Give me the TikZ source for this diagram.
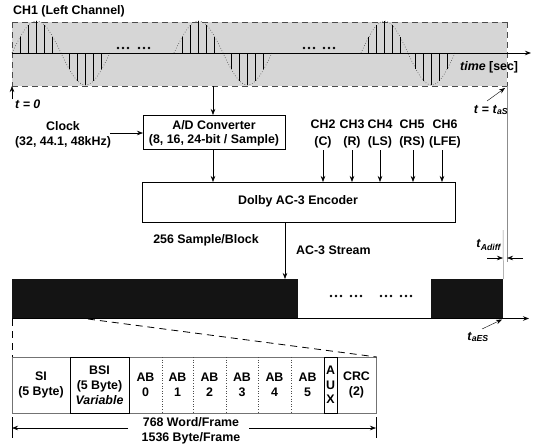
\documentclass[tikz,border=0pt]{standalone}
\usepackage{fontspec}
\setmainfont{Liberation Sans}
\usetikzlibrary{arrows.meta}
\begin{document}
\begin{tikzpicture}[x=1pt,y=-1pt,
  font=\bfseries\fontsize{12.4}{15}\selectfont,
  arr/.style={-{Stealth[length=6pt,width=4.5pt]}, line width=0.6pt},
  box/.style={draw, line width=0.7pt, inner sep=0pt, anchor=north west},
  lbl/.style={inner sep=0pt, align=center},
  dotb/.style={fill, circle, inner sep=0pt, minimum size=2.6pt},
  bandedge/.style={line width=0.9pt, dash pattern=on 6pt off 4pt, black!70},
  blk/.style={fill=black!92, inner sep=0pt, anchor=north west, minimum height=39pt},
  thinline/.style={black!45, line width=0.5pt}]
\useasboundingbox (0,0) rectangle (539,445);

% ---------- top band (CH1 samples)
\fill[black!16] (12,22) rectangle (507,86);
\coordinate (bandTL) at (12,22);
\coordinate (bandTR) at (507,22);
\coordinate (bandBL) at (12,86);
\coordinate (bandBR) at (507,86);
\draw[bandedge] (bandTL) -- (bandTR) (bandBL) -- (bandBR) (bandTL) -- (bandBL) (bandTR) -- (bandBR);
\coordinate (bandext) at (507,262);
\draw[thinline] (bandBR) -- (bandext);

\node[lbl, anchor=west] (ch1) at (13,11) {CH1 (Left Channel)};

\foreach \wo/\wp in {12/98, 174/98, 361/94}{
  \draw[dotted, line width=0.6pt, black!75] plot[domain=0:\wp, samples=60, smooth] ({\wo+\x},{53-32*sin(\x/\wp*360)});
  \foreach \k in {1,2,3,4,5,7,8,9,10,11}
    \draw[line width=0.8pt] ({\wo+\k*\wp/12},53) -- ({\wo+\k*\wp/12},{53-32*sin(30*\k)});
}
\coordinate (ax0) at (12,53);
\coordinate (ax1) at (531,53);
\draw[arr, line width=1pt] (ax0) -- (ax1);
\node[lbl, anchor=west] (time) at (460,67) {\textit{time} [sec]};

\foreach \xx in {118,123,128, 139,144,149, 304,309,314, 324,329,334}
  \node[dotb] at (\xx,48) {};

% t = 0
\node[lbl, anchor=west] (t0) at (15,104) {\textit{t = 0}};
\coordinate (t0a) at (12,99);
\draw[arr] (t0a) -- (bandBL);
% t = t_aS
\node[lbl] (tas) at (491,110) {\textit{t} = \textit{t}\textsubscript{\textit{aS}}};
\coordinate (tasa) at (487,101);
\draw[arr, line width=0.4pt] (tasa) -- (505,88);

% ---------- A/D converter and clock
\node[box, minimum width=142pt, minimum height=34pt] (ad) at (143,115) {};
\node[lbl] at (214,125) {A/D Converter};
\node[lbl] at (214,140) {(8, 16, 24-bit / Sample)};
\coordinate (bandout) at (213,86);
\draw[arr] (bandout) -- (ad.north -| bandout);

\node[lbl] (clock) at (63,135) {Clock\\(32, 44.1, 48kHz)};
\coordinate (clka) at (110,133);
\draw[arr] (clka) -- (ad.west |- clka);

% ---------- encoder
\node[box, minimum width=313pt, minimum height=40pt] (enc) at (142,182) {};
\node[lbl] at (298,201) {Dolby AC-3 Encoder};
\draw[arr] (ad.south -| bandout) -- (enc.north -| bandout);

\foreach \cx/\ax/\cn/\cl in {323/323/2/C, 352/352/3/R, 380/380/4/LS, 412/413/5/RS, 445/442/6/LFE}{
  \node[lbl] (ch\cn) at (\cx,133.5) {CH\cn\\[2pt](\cl)};
  \coordinate (cha\cn) at (\ax,150);
  \draw[arr] (cha\cn) -- (enc.north -| cha\cn);
}

\node[lbl] (spb) at (206,240) {256 Sample/Block};
\node[lbl, anchor=west] (ac3) at (296,250) {AC-3 Stream};

% ---------- stream
\node[blk, minimum width=286pt] (blk1) at (12,279) {};
\node[blk, minimum width=72pt] (blk2) at (431,279) {};
\coordinate (encout) at (285,222);
\draw[arr] (encout) -- (blk1.north -| encout);
\coordinate (sax0) at (12,318.5);
\coordinate (sax1) at (529,318.5);
\draw[arr, line width=1pt] (sax0) -- (sax1);
\foreach \xx in {331,336,341, 351,356,361, 381,386,391, 401,406,411}
  \node[dotb] at (\xx,296) {};

% t_Adiff
\coordinate (endl) at (503,230);
\draw[thinline] (endl) -- (blk2.north east);
\coordinate (adl) at (487,258);
\coordinate (adr) at (523,258);
\draw[arr] (adl) -- (503,258);
\draw[arr] (adr) -- (507,258);
\node[lbl] (tad) at (489,245) {\textit{t}\textsubscript{\textit{Adiff}}};
% t_aES
\node[lbl] (taes) at (478,337) {\textit{t}\textsubscript{\textit{aES}}};
\coordinate (taesa) at (482,329);
\draw[arr, line width=0.4pt] (taesa) -- (502,319.5);

% ---------- frame
\coordinate (zl) at (12,319);
\coordinate (zr) at (88,319);
\node[draw=black!55, line width=0.8pt, inner sep=0pt, anchor=north west, minimum width=364pt, minimum height=56pt] (frame) at (12,357) {};
\draw[dashed, line width=0.8pt, dash pattern=on 7pt off 5pt] (zl) -- (frame.north west);
\draw[dashed, line width=0.8pt, dash pattern=on 7pt off 5pt] (zr) -- (frame.north east);

\draw[line width=1pt] (70,357) rectangle (129,413);
\draw[line width=1pt] (324,357) rectangle (337,413);
\foreach \dx in {162,193,226,258,291}
  \draw[dotted, line width=0.6pt, black!70] (\dx,357) -- (\dx,413);

\node[lbl] (si) at (41,385) {SI\\(5 Byte)};
\node[lbl] (bsi) at (99.5,385) {BSI\\(5 Byte)\\\textit{Variable}};
\foreach \ax/\an in {145.5/0, 177.5/1, 209.5/2, 242/3, 274.5/4, 307.5/5}
  \node[lbl] (ab\an) at (\ax,385) {AB\\\an};
\node[lbl, font=\bfseries\fontsize{12.4}{14.5}\selectfont] (aux) at (330.5,385) {A\\U\\X};
\node[lbl] (crc) at (356.5,385) {CRC\\(2)};

% ---------- frame length
\coordinate (tl0) at (12,417);
\coordinate (tl1) at (12,438);
\coordinate (tr0) at (376,417);
\coordinate (tr1) at (376,438);
\draw[line width=0.6pt] (tl0) -- (tl1) (tr0) -- (tr1);
\node[lbl] (len) at (191,431) {768 Word/Frame\\1536 Byte/Frame};
\coordinate (lenL) at (128,428);
\coordinate (lenR) at (249,428);
\draw[arr] (lenL) -- (tl0 |- lenL);
\draw[arr] (lenR) -- (tr0 |- lenR);
\end{tikzpicture}
\end{document}
